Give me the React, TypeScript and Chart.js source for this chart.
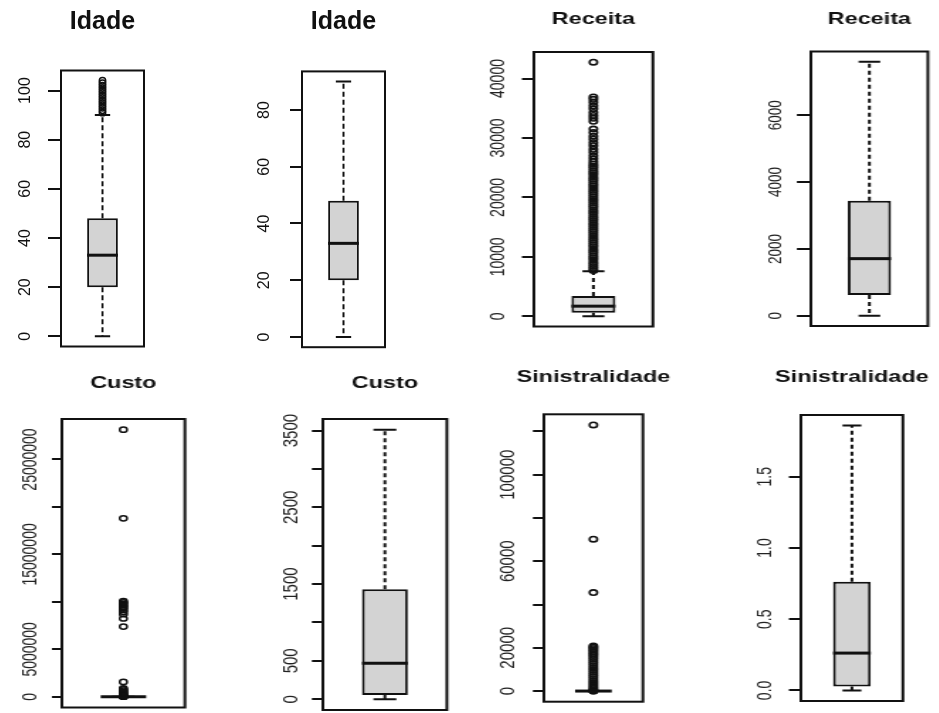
import React, { useEffect, useRef } from 'react';
import { Chart, registerables } from 'chart.js';

Chart.register(...registerables);

// Five-number summaries: [lower whisker, Q1, median, Q3, upper whisker]
const idadeStats = [0, 20, 33, 48, 90];
const receitaStats = [0, 620, 1710, 3440, 7600];
const custoStats = [0, 56, 469, 1432, 3510];
const sinistralidadeStats = [0, 0.028, 0.262, 0.762, 1.859];

// Observations beyond the whiskers
const idadeOutliers = [91, 92, 93, 94, 95, 96, 97, 98, 99, 100, 101, 102, 103, 104];
const receitaOutliers = [
  7700, 8050, 8400, 8750, 9100, 9500, 9850, 10200, 10600, 10950, 11300, 11700, 12050,
  12400, 12800, 13150, 13500, 13900, 14250, 14600, 15000, 15350, 15700, 16100, 16450,
  16800, 17200, 17550, 17900, 18300, 18650, 19000, 19400, 19750, 20100, 20500, 20850,
  21200, 21600, 21950, 22300, 22700, 23050, 23400, 23800, 24150, 24500, 24900, 25250,
  25600, 26000, 26500, 27000, 27600, 28100, 28700, 29200, 29800, 30300, 30900, 31500,
  32800, 33300, 33800, 34300, 34900, 35400, 36000, 36500, 36900, 42750,
];
const custoOutliers = [
  4200, 8000, 15000, 30000, 60000, 100000, 160000, 230000, 320000, 420000, 530000,
  650000, 780000, 900000, 1570000, 7400000, 8250000, 8700000, 8950000, 9150000,
  9350000, 9500000, 9650000, 9800000, 9950000, 10080000, 18800000, 28140000,
];
const sinistralidadeOutliers = [
  1.9, 2.5, 400, 1100, 1900, 2800, 3700, 4700, 5700, 6700, 7700, 8700, 9700, 10700,
  11700, 12700, 13700, 14700, 15600, 16500, 17300, 18100, 18900, 19600, 20200, 20800,
  45500, 70200, 123000,
];

// Axis ticks and printed labels ('' = tick mark without a label)
const idadeTicks = [0, 20, 40, 60, 80, 100];
const idadeTickLabels = ['0', '20', '40', '60', '80', '100'];
const idadeTicksNoOut = [0, 20, 40, 60, 80];
const idadeTickLabelsNoOut = ['0', '20', '40', '60', '80'];
const receitaTicks = [0, 10000, 20000, 30000, 40000];
const receitaTickLabels = ['0', '10000', '20000', '30000', '40000'];
const receitaTicksNoOut = [0, 2000, 4000, 6000];
const receitaTickLabelsNoOut = ['0', '2000', '4000', '6000'];
const custoTicks = [0, 5000000, 10000000, 15000000, 20000000, 25000000];
const custoTickLabels = ['0', '5000000', '', '15000000', '', '25000000'];
const custoTicksNoOut = [0, 500, 1000, 1500, 2000, 2500, 3000, 3500];
const custoTickLabelsNoOut = ['0', '500', '', '1500', '', '2500', '', '3500'];
const sinTicks = [0, 20000, 40000, 60000, 80000, 100000, 120000];
const sinTickLabels = ['0', '20000', '', '60000', '', '100000', ''];
const sinTicksNoOut = [0, 0.5, 1, 1.5];
const sinTickLabelsNoOut = ['0.0', '0.5', '1.0', '1.5'];

const FONT = '"Liberation Sans", Arial, Helvetica, sans-serif';

type Layout = {
  L: number; R: number; T: number; B: number;
  rowTop: number; rowH: number; sx: number;
  tick: number; labelOff: number; labelSize: number; labelColor: string;
  titleSize: number; titleBase: number;
  radius: number; ptWidth: number; dash: number[];
};

type PanelProps = {
  title: string;
  stats: number[];
  outliers: number[];
  ticks: number[];
  tickLabels: string[];
  lay: Layout;
};

function BoxPanel({ title, stats, outliers, ticks, tickLabels, lay }: PanelProps) {
  const ref = useRef<HTMLCanvasElement | null>(null);
  const A = lay.sx === 1 ? 55 : 45;
  const chartW = (lay.R - lay.L) / lay.sx;
  const W = Math.ceil(A + chartW + 40);
  const H = lay.rowH;
  const x0 = lay.L - lay.sx * A;

  useEffect(() => {
    const canvas = ref.current;
    if (!canvas) return;
    const [lo, q1, med, q3, hi] = stats;
    const all = [lo, hi, ...outliers];
    const dMin = Math.min(...all);
    const dMax = Math.max(...all);
    const pad = (dMax - dMin) * 0.04;
    const tl = lay.tick / lay.sx;
    const labelOff = lay.labelOff / lay.sx;

    const boxParts = {
      id: 'boxParts',
      beforeDatasetsDraw(chart: any) {
        const y = chart.scales.y;
        const el = chart.getDatasetMeta(0).data[0];
        const cx = el.x;
        const half = el.width / 2;
        const ctx = chart.ctx;
        ctx.save();
        ctx.strokeStyle = '#111';
        ctx.lineWidth = 2;
        ctx.setLineDash(lay.dash);
        ctx.beginPath();
        ctx.moveTo(cx, y.getPixelForValue(q3));
        ctx.lineTo(cx, y.getPixelForValue(hi));
        ctx.moveTo(cx, y.getPixelForValue(q1));
        ctx.lineTo(cx, y.getPixelForValue(lo));
        ctx.stroke();
        ctx.setLineDash([]);
        ctx.beginPath();
        ctx.moveTo(cx - half / 2, y.getPixelForValue(hi));
        ctx.lineTo(cx + half / 2, y.getPixelForValue(hi));
        ctx.moveTo(cx - half / 2, y.getPixelForValue(lo));
        ctx.lineTo(cx + half / 2, y.getPixelForValue(lo));
        ctx.stroke();
        ctx.restore();
      },
      afterDatasetDraw(chart: any, args: any) {
        if (args.index !== 0) return;
        const y = chart.scales.y;
        const el = chart.getDatasetMeta(0).data[0];
        const ctx = chart.ctx;
        const py = y.getPixelForValue(med);
        ctx.save();
        ctx.strokeStyle = '#111';
        ctx.lineWidth = 3;
        ctx.beginPath();
        ctx.moveTo(el.x - el.width / 2, py);
        ctx.lineTo(el.x + el.width / 2, py);
        ctx.stroke();
        ctx.restore();
      },
      afterDraw(chart: any) {
        const { ctx, chartArea } = chart;
        const y = chart.scales.y;
        ctx.save();
        // plot frame
        ctx.strokeStyle = '#111';
        ctx.lineWidth = 2;
        ctx.strokeRect(chartArea.left, chartArea.top, chartArea.right - chartArea.left, chartArea.bottom - chartArea.top);
        // rotated tick labels
        ctx.fillStyle = lay.labelColor;
        ctx.font = `${lay.labelSize}px ${FONT}`;
        ctx.textAlign = 'center';
        ctx.textBaseline = 'alphabetic';
        ticks.forEach((v, i) => {
          const text = tickLabels[i];
          if (!text) return;
          const py = y.getPixelForValue(v);
          const xb = chartArea.left - labelOff + (0.716 * lay.labelSize) / 2;
          ctx.save();
          ctx.translate(xb, py);
          ctx.rotate(-Math.PI / 2);
          ctx.fillText(text, 0, 0);
          ctx.restore();
        });
        // title
        ctx.fillStyle = '#111';
        ctx.font = `bold ${lay.titleSize}px ${FONT}`;
        ctx.fillText(title, (chartArea.left + chartArea.right) / 2, lay.titleBase);
        ctx.restore();
      },
    };

    const chart = new Chart(canvas, {
      type: 'bar',
      data: {
        labels: [title],
        datasets: [
          {
            type: 'bar',
            data: [[q1, q3]],
            backgroundColor: '#d3d3d3',
            borderColor: '#111',
            borderWidth: 2,
            borderSkipped: false,
            barPercentage: 0.37,
            categoryPercentage: 1,
            order: 2,
          } as any,
          {
            type: 'line',
            data: outliers.map((v) => ({ x: title, y: v })),
            showLine: false,
            pointStyle: 'circle',
            pointRadius: lay.radius,
            pointBorderWidth: lay.ptWidth,
            pointBackgroundColor: 'rgba(0,0,0,0)',
            pointBorderColor: '#111',
            order: 1,
          } as any,
        ],
      },
      options: {
        responsive: false,
        animation: false,
        events: [],
        layout: {
          padding: {
            left: A - tl,
            right: W - A - chartW,
            top: lay.T - lay.rowTop,
            bottom: lay.rowTop + H - lay.B,
          },
        },
        plugins: {
          legend: { display: false },
          tooltip: { enabled: false },
          title: { display: false },
        },
        scales: {
          x: { display: false },
          y: {
            type: 'linear',
            min: dMin - pad,
            max: dMax + pad,
            afterBuildTicks: (scale: any) => {
              scale.ticks = ticks.map((v) => ({ value: v }));
            },
            ticks: { display: false },
            grid: {
              drawOnChartArea: false,
              drawTicks: true,
              tickLength: tl,
              color: '#111',
              lineWidth: 2,
            },
            border: { display: false },
          },
        },
      } as any,
      plugins: [boxParts],
    });
    return () => chart.destroy();
  }, []);

  return (
    <div
      style={{
        position: 'absolute',
        left: x0,
        top: lay.rowTop,
        width: W,
        height: H,
        transform: `scaleX(${lay.sx})`,
        transformOrigin: '0 0',
      }}
    >
      <canvas ref={ref} width={W} height={H} style={{ display: 'block', width: W, height: H }} />
    </div>
  );
}

const TOP = { rowTop: 0, rowH: 360 };
const BOTTOM = { rowTop: 360, rowH: 353 };
const SX = 1.42;

const layouts: Layout[] = [
  { ...TOP, L: 61, R: 144, T: 70.5, B: 346.5, sx: 1, tick: 13, labelOff: 36.5, labelSize: 16, labelColor: '#111', titleSize: 25, titleBase: 29, radius: 3.2, ptWidth: 1.5, dash: [5, 3] },
  { ...TOP, L: 302, R: 385, T: 71.4, B: 347.2, sx: 1, tick: 12, labelOff: 38.5, labelSize: 16, labelColor: '#111', titleSize: 25, titleBase: 29, radius: 3.2, ptWidth: 1.5, dash: [5, 3] },
  { ...TOP, L: 534, R: 653, T: 52, B: 326.5, sx: SX, tick: 12, labelOff: 37.5, labelSize: 14, labelColor: '#222', titleSize: 16.5, titleBase: 24, radius: 2.7, ptWidth: 1.6, dash: [4, 3] },
  { ...TOP, L: 811, R: 928, T: 51.5, B: 326, sx: SX, tick: 14, labelOff: 37, labelSize: 13.5, labelColor: '#222', titleSize: 16.5, titleBase: 24, radius: 2.7, ptWidth: 1.6, dash: [4, 3] },
  { ...BOTTOM, L: 62, R: 185, T: 419, B: 710, sx: SX, tick: 10, labelOff: 32, labelSize: 14, labelColor: '#222', titleSize: 16.5, titleBase: 28, radius: 2.6, ptWidth: 1.5, dash: [4, 3] },
  { ...BOTTOM, L: 323, R: 447, T: 419, B: 710, sx: SX, tick: 11, labelOff: 33.5, labelSize: 15, labelColor: '#222', titleSize: 16.5, titleBase: 28, radius: 2.6, ptWidth: 1.5, dash: [4, 3] },
  { ...BOTTOM, L: 544, R: 643, T: 414.3, B: 701.7, sx: SX, tick: 11, labelOff: 37.5, labelSize: 15, labelColor: '#222', titleSize: 16.5, titleBase: 22, radius: 2.7, ptWidth: 1.6, dash: [4, 3] },
  { ...BOTTOM, L: 801, R: 903, T: 415, B: 701, sx: SX, tick: 12, labelOff: 37.5, labelSize: 14, labelColor: '#222', titleSize: 16.5, titleBase: 22, radius: 2.7, ptWidth: 1.6, dash: [4, 3] },
];

export default function App() {
  return (
    <div
      style={{
        position: 'fixed',
        left: 0,
        top: 0,
        width: 939,
        height: 713,
        overflow: 'hidden',
        background: '#fff',
      }}
    >
      <BoxPanel title="Idade" stats={idadeStats} outliers={idadeOutliers} ticks={idadeTicks} tickLabels={idadeTickLabels} lay={layouts[0]} />
      <BoxPanel title="Idade" stats={idadeStats} outliers={[]} ticks={idadeTicksNoOut} tickLabels={idadeTickLabelsNoOut} lay={layouts[1]} />
      <BoxPanel title="Receita" stats={receitaStats} outliers={receitaOutliers} ticks={receitaTicks} tickLabels={receitaTickLabels} lay={layouts[2]} />
      <BoxPanel title="Receita" stats={receitaStats} outliers={[]} ticks={receitaTicksNoOut} tickLabels={receitaTickLabelsNoOut} lay={layouts[3]} />
      <BoxPanel title="Custo" stats={custoStats} outliers={custoOutliers} ticks={custoTicks} tickLabels={custoTickLabels} lay={layouts[4]} />
      <BoxPanel title="Custo" stats={custoStats} outliers={[]} ticks={custoTicksNoOut} tickLabels={custoTickLabelsNoOut} lay={layouts[5]} />
      <BoxPanel title="Sinistralidade" stats={sinistralidadeStats} outliers={sinistralidadeOutliers} ticks={sinTicks} tickLabels={sinTickLabels} lay={layouts[6]} />
      <BoxPanel title="Sinistralidade" stats={sinistralidadeStats} outliers={[]} ticks={sinTicksNoOut} tickLabels={sinTickLabelsNoOut} lay={layouts[7]} />
    </div>
  );
}
